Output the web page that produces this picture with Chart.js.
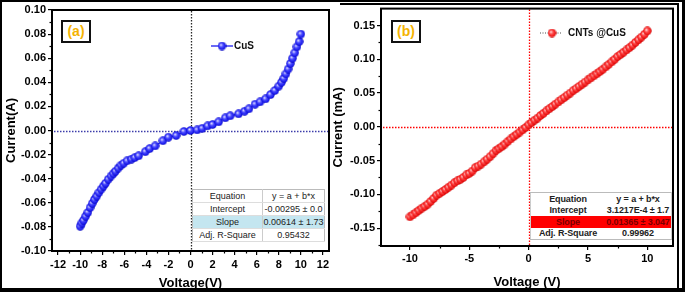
<!DOCTYPE html>
<html>
<head>
<meta charset="utf-8">
<script src="https://cdn.jsdelivr.net/npm/chart.js@4.4.0/dist/chart.umd.min.js"></script>
<style>
  body { margin: 0; background: #fff; width: 685px; height: 294px; position: relative; overflow: hidden;
         font-family: 'Liberation Sans', Arial, sans-serif; }
  canvas { position: absolute; top: 0; }
  .bar { position: absolute; background: #000; }
  .tag { position: absolute; width: 26px; height: 19px; border: 2px solid #111; background: #fff;
         color: #f5b301; font-weight: bold; font-size: 14px; line-height: 19px; text-align: center; }
  table.fit { position: absolute; border-collapse: collapse; table-layout: fixed; color: #222; background: #fff; }
  table.fit td { text-align: center; padding: 0; white-space: nowrap; overflow: hidden; }
  #tabA { left: 192px; top: 189px; width: 133px; font-size: 9px; border: 1px solid #bbb; }
  #tabA td { height: 12px; border-bottom: 1px solid #ddd; }
  #tabA td:first-child { border-right: 1px solid #ccc; width: 69px; }
  #tabA tr.hl td { background: #c4e6f0; }
  #tabB { left: 530px; top: 192px; width: 142px; font-size: 9px; font-weight: bold; letter-spacing: -0.1px;
          border-top: 1px solid #bbb; border-bottom: 1px solid #bbb; border-left: 1px solid #ccc; border-right: 1px solid #ccc; }
  #tabB td { height: 11.5px; }
  #tabB td:first-child { width: 74px; }
  #tabB tr.hl td { background: #ff0000; color: #7a0000; }
</style>
</head>
<body>
<canvas id="chartA" width="345" height="294" style="left:0;width:345px;height:294px"></canvas>
<canvas id="chartB" width="360" height="294" style="left:325px;width:360px;height:294px"></canvas>

<div class="bar" style="left:0;top:0;width:685px;height:2px"></div>
<div class="bar" style="left:0;top:0;width:2px;height:292px"></div>
<div class="bar" style="left:0;top:288px;width:685px;height:4px"></div>
<div class="bar" style="left:682px;top:0;width:3px;height:292px"></div>
<div class="bar" style="left:677px;top:3px;width:2px;height:286px"></div>
<div class="bar" style="left:340px;top:3px;width:339px;height:2px"></div>

<div class="tag" style="left:61px;top:20px">(a)</div>
<div class="tag" style="left:391px;top:20px">(b)</div>

<table class="fit" id="tabA">
  <tr><td>Equation</td><td>y = a + b*x</td></tr>
  <tr><td>Intercept</td><td>-0.00295 ± 0.0</td></tr>
  <tr class="hl"><td>Slope</td><td>0.00614 ± 1.73</td></tr>
  <tr><td>Adj. R-Square</td><td>0.95432</td></tr>
</table>
<table class="fit" id="tabB">
  <tr><td>Equation</td><td>y = a + b*x</td></tr>
  <tr><td>Intercept</td><td>3.1217E-4 ± 1.7</td></tr>
  <tr class="hl"><td>Slope</td><td>0.01365 ± 3.047</td></tr>
  <tr><td>Adj. R-Square</td><td>0.99962</td></tr>
</table>

<script>
// (a) CuS, current in A
const cusV = [-10.0, -9.85, -9.7, -9.5, -9.3, -9.1, -8.9, -8.7, -8.5, -8.3, -8.1, -7.9, -7.7, -7.45,
  -7.2, -7.0, -6.8, -6.55, -6.3, -6.05, -5.75, -5.35, -5.05, -4.7, -4.1, -3.7, -3.2, -2.5, -2.0,
  -1.3, -0.6, 0.0, 0.6, 1.05, 1.55, 2.0, 2.55, 3.15, 3.6, 4.35, 4.9, 5.3, 5.85, 6.3, 6.8, 7.25,
  7.65, 8.0, 8.25, 8.45, 8.65, 8.85, 9.05, 9.25, 9.45, 9.65, 9.85, 10.0];
const cusI = [-0.0795, -0.0768, -0.0745, -0.0712, -0.0680, -0.0640, -0.0605, -0.0572, -0.0545,
  -0.0515, -0.0488, -0.0462, -0.0438, -0.0405, -0.0378, -0.0358, -0.0338, -0.0312, -0.0288,
  -0.0272, -0.0252, -0.0238, -0.0225, -0.0210, -0.0176, -0.0150, -0.0128, -0.0085, -0.0055,
  -0.0042, -0.0008, 0.0000, 0.0005, 0.0018, 0.0038, 0.0050, 0.0072, 0.0105, 0.0122, 0.0138,
  0.0160, 0.0180, 0.0218, 0.0238, 0.0262, 0.0298, 0.0332, 0.0368, 0.0400, 0.0432, 0.0470,
  0.0510, 0.0555, 0.0600, 0.0645, 0.0695, 0.0738, 0.0800];

// (b) CNTs @CuS, current in mA
const cntV = [-10.0, -9.75, -9.5, -9.25, -9.0, -8.75, -8.5, -8.25, -8.0, -7.75, -7.5, -7.25, -7.0,
  -6.75, -6.5, -6.25, -6.0, -5.75, -5.5, -5.25, -5.0, -4.75, -4.5, -4.25, -4.0, -3.75, -3.5, -3.25,
  -3.0, -2.75, -2.5, -2.25, -2.0, -1.75, -1.5, -1.25, -1.0, -0.75, -0.5, -0.25, 0.0, 0.25, 0.5,
  0.75, 1.0, 1.25, 1.5, 1.75, 2.0, 2.25, 2.5, 2.75, 3.0, 3.25, 3.5, 3.75, 4.0, 4.25, 4.5, 4.75,
  5.0, 5.25, 5.5, 5.75, 6.0, 6.25, 6.5, 6.75, 7.0, 7.25, 7.5, 7.75, 8.0, 8.25, 8.5, 8.75, 9.0,
  9.25, 9.5, 9.75, 10.0];
const cntI = [-0.1332, -0.1305, -0.1272, -0.1238, -0.1205, -0.1178, -0.1145, -0.1105, -0.1060,
  -0.1012, -0.0985, -0.0958, -0.0928, -0.0895, -0.0862, -0.0828, -0.0800, -0.0778, -0.0748,
  -0.0712, -0.0690, -0.0655, -0.0605, -0.0582, -0.0552, -0.0518, -0.0480, -0.0442, -0.0398,
  -0.0350, -0.0322, -0.0292, -0.0255, -0.0215, -0.0180, -0.0145, -0.0112, -0.0078, -0.0045,
  -0.0010, 0.0030, 0.0062, 0.0098, 0.0130, 0.0168, 0.0200, 0.0235, 0.0268, 0.0300, 0.0335,
  0.0368, 0.0400, 0.0432, 0.0468, 0.0500, 0.0535, 0.0565, 0.0598, 0.0630, 0.0662, 0.0695,
  0.0725, 0.0755, 0.0785, 0.0818, 0.0852, 0.0888, 0.0925, 0.0962, 0.1000, 0.1040, 0.1072,
  0.1105, 0.1138, 0.1172, 0.1210, 0.1250, 0.1288, 0.1328, 0.1370, 0.1420];

const xTicksA = [-12, -10, -8, -6, -4, -2, 0, 2, 4, 6, 8, 10, 12];
const xMinorA = [-11, -9, -7, -5, -3, -1, 1, 3, 5, 7, 9, 11];
const yTicksA = [-0.10, -0.08, -0.06, -0.04, -0.02, 0, 0.02, 0.04, 0.06, 0.08, 0.10];
const yMinorA = [-0.09, -0.07, -0.05, -0.03, -0.01, 0.01, 0.03, 0.05, 0.07, 0.09];
const xTicksB = [-10, -5, 0, 5, 10];
const xMinorB = [-7.5, -2.5, 2.5, 7.5];
const yTicksB = [-0.15, -0.10, -0.05, 0, 0.05, 0.10, 0.15];
const yMinorB = [-0.175, -0.125, -0.075, -0.025, 0.025, 0.075, 0.125];

Chart.defaults.font.family = "'Liberation Sans', Arial, sans-serif";
Chart.defaults.color = '#000';

// small shaded ball used as the marker
function ball(size, light, mid, dark, edge) {
  const c = document.createElement('canvas');
  c.width = size; c.height = size;
  const g = c.getContext('2d');
  const r = size / 2;
  const grad = g.createRadialGradient(r - 1.2, r - 1.2, 0.3, r, r, r);
  grad.addColorStop(0, light);
  grad.addColorStop(0.4, mid);
  grad.addColorStop(0.85, dark);
  grad.addColorStop(1, edge);
  g.fillStyle = grad;
  g.beginPath();
  g.arc(r, r, r - 0.3, 0, Math.PI * 2);
  g.fill();
  return c;
}
const blueBall = ball(9, '#d8d8ff', '#4848ff', '#1414e6', '#0000a8');
const redBall = ball(9, '#ffd8d8', '#ff4a4a', '#ee1010', '#b00000');

const framePlugin = {
  id: 'frame',
  beforeDatasetsDraw(chart, args, o) {
    const { ctx, chartArea: a, scales: { x, y } } = chart;
    ctx.save();
    ctx.lineWidth = 1.3;
    ctx.setLineDash([1.5, 1.5]);
    const x0 = Math.round(x.getPixelForValue(0)) + 0.5;
    const y0 = Math.round(y.getPixelForValue(0)) + 0.5;
    ctx.strokeStyle = o.zero[0];
    ctx.beginPath(); ctx.moveTo(a.left + 2, y0); ctx.lineTo(a.right - 1, y0); ctx.stroke();
    ctx.strokeStyle = o.zero[1];
    ctx.beginPath(); ctx.moveTo(x0, a.top + 1); ctx.lineTo(x0, a.bottom - 1); ctx.stroke();
    ctx.restore();
  },
  afterDraw(chart, args, o) {
    const { ctx, chartArea: a, scales: { x, y } } = chart;
    ctx.save();
    ctx.strokeStyle = '#000';
    ctx.lineWidth = 1.2;
    o.xMinor.forEach(v => {
      const px = Math.round(x.getPixelForValue(v)) + 0.5;
      ctx.beginPath(); ctx.moveTo(px, a.bottom); ctx.lineTo(px, a.bottom + 2.5); ctx.stroke();
    });
    o.yMinor.forEach(v => {
      const py = Math.round(y.getPixelForValue(v)) + 0.5;
      ctx.beginPath(); ctx.moveTo(a.left - 2.5, py); ctx.lineTo(a.left, py); ctx.stroke();
    });
    ctx.lineWidth = 2;
    ctx.strokeRect(a.left, a.top, a.right - a.left, a.bottom - a.top);

    // legend entry
    const L = o.legend;
    ctx.strokeStyle = L.lineColor;
    ctx.lineWidth = 1.3;
    ctx.setLineDash(L.dash);
    ctx.beginPath(); ctx.moveTo(L.x1, L.y); ctx.lineTo(L.x2, L.y); ctx.stroke();
    ctx.setLineDash([]);
    ctx.drawImage(L.img, L.mx - L.img.width / 2, L.y - L.img.height / 2);
    ctx.fillStyle = '#111';
    ctx.font = 'bold 10px "Liberation Sans", Arial, sans-serif';
    ctx.textBaseline = 'middle';
    ctx.fillText(L.text, L.tx, L.y + 0.5);
    ctx.restore();
  }
};

function makeChart(id, cfg) {
  const pts = cfg.xs.map((v, i) => ({ x: v, y: cfg.ys[i] }));
  return new Chart(document.getElementById(id), {
    type: 'scatter',
    data: {
      datasets: [{
        label: cfg.label,
        data: pts,
        showLine: true,
        borderColor: cfg.lineColor,
        borderWidth: cfg.lineWidth,
        borderDash: cfg.dash,
        pointStyle: cfg.img,
        pointRadius: 4.5,
        pointHoverRadius: 4.5
      }]
    },
    options: {
      responsive: false,
      animation: false,
      events: [],
      layout: { padding: cfg.padding },
      plugins: {
        legend: { display: false },
        tooltip: { enabled: false },
        frame: {
          zero: cfg.zero,
          xMinor: cfg.xMinor, yMinor: cfg.yMinor,
          legend: cfg.legend
        }
      },
      scales: {
        x: {
          type: 'linear',
          min: cfg.xMin, max: cfg.xMax,
          afterBuildTicks: s => { s.ticks = cfg.xTicks.map(v => ({ value: v })); },
          afterFit: s => { s.height = cfg.xHeight; },
          border: { display: false },
          grid: { drawOnChartArea: false, drawTicks: true, tickLength: 4, color: '#000', lineWidth: 1.2 },
          ticks: { font: { size: 11, weight: 'bold' }, padding: cfg.xPad, maxRotation: 0,
                   callback: v => String(v) },
          title: { display: true, text: cfg.xTitle, font: { size: 13, weight: 'bold' },
                   padding: { top: 0, bottom: cfg.xTitlePad } }
        },
        y: {
          type: 'linear',
          min: cfg.yMin, max: cfg.yMax,
          afterBuildTicks: s => { s.ticks = cfg.yTicks.map(v => ({ value: v })); },
          afterFit: s => { s.width = cfg.yWidth; },
          border: { display: false },
          grid: { drawOnChartArea: false, drawTicks: true, tickLength: 4, color: '#000', lineWidth: 1.2 },
          ticks: { font: { size: 11, weight: 'bold' }, padding: 2,
                   callback: v => v.toFixed(2) },
          title: { display: true, text: cfg.yTitle, font: { size: 13, weight: 'bold' },
                   padding: { top: cfg.yTitlePad, bottom: 0 } }
        }
      }
    },
    plugins: [framePlugin]
  });
}

makeChart('chartA', {
  label: 'CuS', xs: cusV, ys: cusI, img: blueBall,
  lineColor: '#1a1af0', lineWidth: 1.2, dash: [],
  padding: { top: 10, right: 16, left: 0, bottom: 0 },
  xMin: -12.55, xMax: 12.55, yMin: -0.1, yMax: 0.1,
  xTicks: xTicksA, yTicks: yTicksA, xMinor: xMinorA, yMinor: yMinorA,
  xHeight: 43, yWidth: 52, xPad: 3,
  xTitle: 'Voltage(V)', yTitle: 'Current(A)', xTitlePad: 3, yTitlePad: 4,
  zero: ['rgb(60,60,170)', 'rgb(40,40,40)'],
  legend: { x1: 211, x2: 233, y: 46, mx: 222, img: blueBall, lineColor: '#1a1af0', dash: [], text: 'CuS', tx: 234 }
});

makeChart('chartB', {
  label: 'CNTs @CuS', xs: cntV, ys: cntI, img: redBall,
  lineColor: '#999', lineWidth: 1, dash: [1, 2],
  padding: { top: 7, right: 12, left: 0, bottom: 0 },
  xMin: -12.44, xMax: 12.16, yMin: -0.1765, yMax: 0.175,
  xTicks: xTicksB, yTicks: yTicksB, xMinor: xMinorB, yMinor: yMinorB,
  xHeight: 48, yWidth: 56, xPad: 2,
  xTitle: 'Voltage (V)', yTitle: 'Current (mA)', xTitlePad: 4, yTitlePad: 6,
  zero: ['#ff0000', '#ff0000'],
  legend: { x1: 215, x2: 236, y: 33, mx: 227, img: redBall, lineColor: '#888', dash: [1, 1.5], text: 'CNTs @CuS', tx: 243 }
});
</script>
</body>
</html>
